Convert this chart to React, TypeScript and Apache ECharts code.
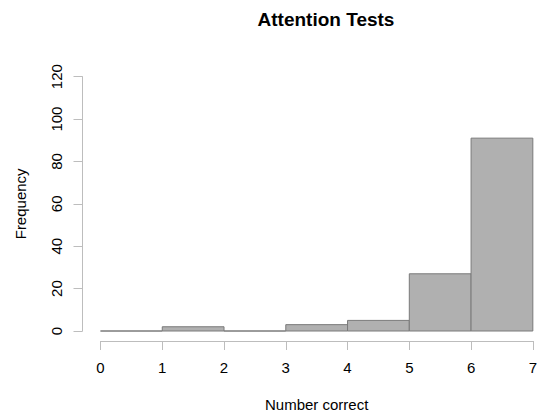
import React, { useEffect, useRef } from "react";
import * as echarts from "echarts";

const titleText = "Attention Tests";
const xAxisTitle = "Number correct";
const yAxisTitle = "Frequency";
const binStarts = [0, 1, 2, 3, 4, 5, 6];
const binEnds = [1, 2, 3, 4, 5, 6, 7];
const counts = [0, 2, 0, 3, 5, 27, 91];

const FONT = "'Liberation Sans', Arial, Helvetica, sans-serif";

export default function App() {
  const ref = useRef<HTMLDivElement>(null);
  useEffect(() => {
    if (!ref.current) return;
    const chart = echarts.init(ref.current, undefined, { renderer: "svg" });
    const data = binStarts.map((s, i) => [s, binEnds[i], counts[i]]);
    chart.setOption({
      animation: false,
      backgroundColor: "#ffffff",
      textStyle: { fontFamily: FONT },
      title: {
        text: titleText,
        left: 321,
        top: 5,
        textAlign: "center",
        textStyle: { fontFamily: FONT, fontSize: 19, fontWeight: "bold", color: "#000" },
      },
      grid: { left: 100.5, right: 3, top: 76.7, bottom: 85.5, containLabel: false },
      xAxis: {
        type: "value",
        min: 0,
        max: 7,
        interval: 1,
        offset: 10,
        name: xAxisTitle,
        nameLocation: "middle",
        nameGap: 56,
        nameTextStyle: { fontFamily: FONT, fontSize: 15, color: "#000" },
        axisLine: { show: true, onZero: false, lineStyle: { color: "#bdbdbd", width: 1 } },
        axisTick: { show: true, length: 9, lineStyle: { color: "#bdbdbd", width: 1 } },
        axisLabel: { fontFamily: FONT, fontSize: 15, color: "#000", margin: 19 },
        splitLine: { show: false },
      },
      yAxis: {
        type: "value",
        min: 0,
        max: 120,
        interval: 20,
        offset: 18,
        name: yAxisTitle,
        nameLocation: "middle",
        nameRotate: 90,
        nameGap: 55,
        nameTextStyle: { fontFamily: FONT, fontSize: 15, color: "#000" },
        axisLine: { show: true, onZero: false, lineStyle: { color: "#bdbdbd", width: 1 } },
        axisTick: { show: true, length: 9, lineStyle: { color: "#bdbdbd", width: 1 } },
        axisLabel: { fontFamily: FONT, fontSize: 15, color: "#000", margin: 19, rotate: 90 },
        splitLine: { show: false },
      },
      series: [
        {
          type: "custom",
          data,
          encode: { x: [0, 1], y: 2 },
          renderItem: (params: any, api: any) => {
            const x0 = api.value(0);
            const x1 = api.value(1);
            const v = api.value(2);
            const p0 = api.coord([x0, v]);
            const p1 = api.coord([x1, 0]);
            return {
              type: "rect",
              shape: { x: p0[0], y: p0[1], width: p1[0] - p0[0], height: p1[1] - p0[1] },
              style: { fill: "#b0b0b0", stroke: "#7a7a7a", lineWidth: 1 },
            };
          },
        },
      ],
    });
    return () => chart.dispose();
  }, []);
  return (
    <div
      ref={ref}
      style={{ position: "fixed", left: 0, top: 0, width: 540, height: 417, background: "#fff" }}
    />
  );
}
